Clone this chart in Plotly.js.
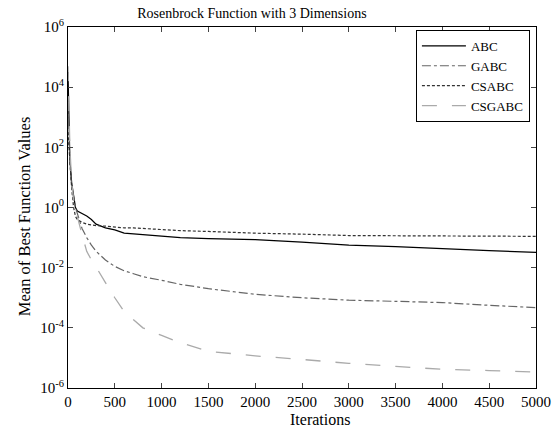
<!DOCTYPE html>
<html>
<head>
<meta charset="utf-8">
<script src="https://cdn.plot.ly/plotly-3.0.1.min.js"></script>
<style>html,body{margin:0;padding:0;background:#fff;}#chart{width:556px;height:428px;}</style>
</head>
<body>
<div id="chart"></div>
<script>
const iterations = [0,10,20,40,60,80,100,150,200,250,300,400,500,600,700,800,1000,1200,1500,2000,2500,3000,3500,4000,4500,5000];
const abc = [3.2e4,316,40,6.3,2.0,1.0,0.76,0.63,0.52,0.40,0.28,0.21,0.18,0.14,0.13,0.126,0.112,0.1,0.093,0.085,0.071,0.056,0.05,0.044,0.037,0.032];
const gabc = [3200,160,32,5.0,2.0,1.0,0.63,0.2,0.1,0.056,0.035,0.018,0.011,0.0079,0.0063,0.005,0.0038,0.0028,0.002,0.0013,0.001,8.3e-4,7.6e-4,6.9e-4,5.6e-4,4.7e-4];
const csabc = [316,100,32,4.0,1.0,0.5,0.4,0.32,0.28,0.26,0.25,0.24,0.22,0.21,0.21,0.2,0.19,0.17,0.16,0.14,0.13,0.117,0.115,0.112,0.112,0.11];
const csgabc = [5e4,1000,100,6.3,1.6,0.8,0.5,0.126,0.035,0.018,0.0105,0.0032,0.001,3.5e-4,1.8e-4,1e-4,5.6e-5,3.2e-5,1.66e-5,1.17e-5,8.9e-6,6.6e-6,5.2e-6,4.2e-6,3.8e-6,3.4e-6];
const seriesNames = ['ABC','GABC','CSABC','CSGABC'];
const xTicks = [0,500,1000,1500,2000,2500,3000,3500,4000,4500,5000];
const yTickVals = [1e-6,1e-4,1e-2,1,1e2,1e4,1e6];
const yTickText = ['10<sup>-6</sup>','10<sup>-4</sup>','10<sup>-2</sup>','10<sup>0</sup>','10<sup>2</sup>','10<sup>4</sup>','10<sup>6</sup>'];

const font = 'Liberation Serif, Times New Roman, serif';
const styles = [
  {color:'#000000', dash:'solid', width:1.2},
  {color:'#666666', dash:'dashdot', width:1.2},
  {color:'#333333', dash:'3px,2px', width:1.2},
  {color:'#aaaaaa', dash:'longdash', width:1.3}
];
const ys = [abc, gabc, csabc, csgabc];
const traces = ys.map((y,i)=>({
  x: iterations, y: y, type:'scatter', mode:'lines',
  name: seriesNames[i],
  line: styles[i]
}));

const layout = {
  width:556, height:428,
  margin:{l:68, r:20, t:27, b:40},
  paper_bgcolor:'#fff', plot_bgcolor:'#fff',
  font:{family:font, color:'#000', size:14},
  title:{text:'Rosenbrock Function with 3 Dimensions', x:0.453, xanchor:'center', y:0.969, yanchor:'middle', font:{family:font, size:14, color:'#000'}},
  xaxis:{range:[0,5000], tickvals:xTicks, ticks:'inside', ticklen:5, showline:true, mirror:'ticks', linecolor:'#000', linewidth:1, showgrid:false, zeroline:false,
    tickfont:{family:font, size:15}},
  yaxis:{type:'log', range:[-6,6], tickvals:yTickVals, ticktext:yTickText, ticks:'inside', ticklen:5, showline:true, mirror:'ticks', linecolor:'#000', linewidth:1, showgrid:false, zeroline:false,
    tickfont:{family:font, size:15}},
  annotations:[
    {text:'Iterations', xref:'paper', yref:'paper', x:0.538, y:-0.087, xanchor:'center', yanchor:'middle', showarrow:false, font:{family:font, size:16}},
    {text:'Mean of Best Function Values', xref:'paper', yref:'paper', x:-0.094, y:0.476, xanchor:'center', yanchor:'middle', textangle:-90, showarrow:false, font:{family:font, size:16.5}}
  ],
  legend:{x:0.987, xanchor:'right', y:0.992, yanchor:'top', bgcolor:'#fff', bordercolor:'#000', borderwidth:1, font:{family:font, size:13}, tracegroupgap:0, itemwidth:44},
  showlegend:true
};
Plotly.newPlot('chart', traces, layout, {staticPlot:true});
</script>
</body>
</html>
